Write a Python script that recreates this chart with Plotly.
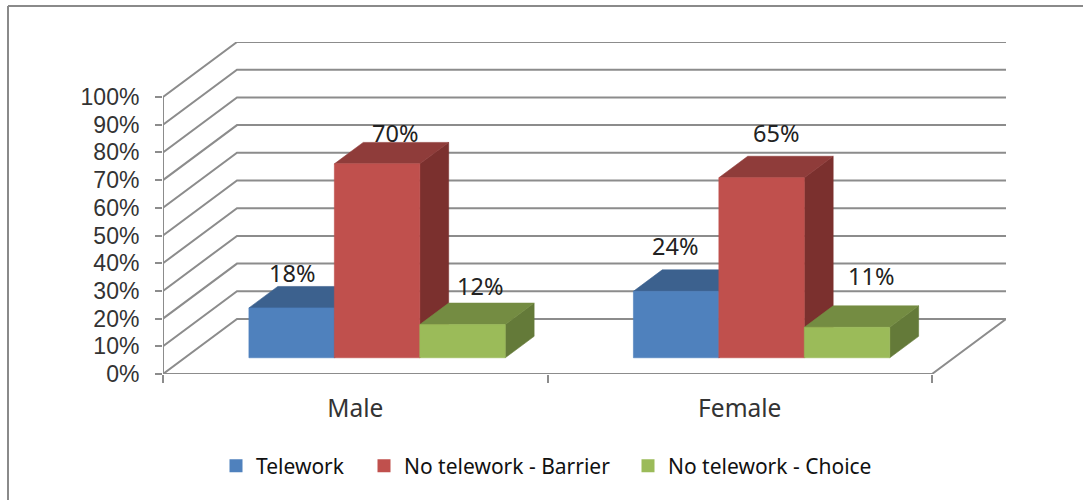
import plotly.graph_objects as go

categories = ["Male", "Female"]
series_names = ["Telework", "No telework - Barrier", "No telework - Choice"]
telework = [18, 24]
barrier = [70, 65]
choice = [12, 11]
y_ticks = list(range(0, 101, 10))

front_colors = ["#4f81bd", "#c0504d", "#9bbb59"]
top_colors = ["#3c618e", "#8f3c3a", "#748c42"]
side_colors = ["#345278", "#7b302e", "#647a39"]
GRID = "#8c8c8c"

# plot frame in pixels
W, H = 1083, 500
L, R, T, B = 163, 1006, 42, 374
PX_X = 384.5      # pixels per category
PX_Y = 2.77       # pixels per percent
DX, DY = 74 / PX_X, 55 / PX_Y   # oblique offset of the full floor depth, in axis units
XMAX_FRONT = 2.0
BAR_W = 2 / 9
D_FRONT, D_BACK = 0.295, 0.685

# label nudges in pixels (x, up), category by series
label_nudge = [[(0, 35), (18, 31), (17, 39)], [(-1, 45), (14, 45), (24, 51)]]


def proj(c, v, d=0.0):
    return c + d * DX, v + d * DY


def poly(points, color):
    xs, ys = zip(*(proj(*p) for p in points))
    return go.Scatter(x=list(xs) + [xs[0]], y=list(ys) + [ys[0]], mode="lines", fill="toself",
                      fillcolor=color, line=dict(color=color, width=0.6),
                      hoverinfo="skip", showlegend=False)


def line(points, width=2):
    xs, ys = zip(*(proj(*p) for p in points))
    return go.Scatter(x=list(xs), y=list(ys), mode="lines", line=dict(color=GRID, width=width),
                      hoverinfo="skip", showlegend=False)


fig = go.Figure()

# walls and floor
for v in y_ticks[1:]:
    fig.add_trace(line([(0, v, 0), (0, v, 1), (XMAX_FRONT, v, 1)]))
fig.add_trace(line([(0, 0, 0), (0, 0, 1), (XMAX_FRONT, 0, 1), (XMAX_FRONT, 0, 0), (0, 0, 0)]))
fig.add_trace(line([(0, 0, 0), (0, 100, 0)]))

# bars
annotations = []
series = [telework, barrier, choice]
for ci, cat in enumerate(categories):
    for si, vals in enumerate(series):
        v = vals[ci]
        x0 = ci + 1 / 6 + si * BAR_W
        x1 = x0 + BAR_W
        fig.add_trace(poly([(x1, 0, D_FRONT), (x1, 0, D_BACK), (x1, v, D_BACK), (x1, v, D_FRONT)], side_colors[si]))
        fig.add_trace(poly([(x0, v, D_FRONT), (x1, v, D_FRONT), (x1, v, D_BACK), (x0, v, D_BACK)], top_colors[si]))
        fig.add_trace(poly([(x0, 0, D_FRONT), (x1, 0, D_FRONT), (x1, v, D_FRONT), (x0, v, D_FRONT)], front_colors[si]))
        ax, ay = proj((x0 + x1) / 2, v, D_FRONT)
        nx, ny = label_nudge[ci][si]
        annotations.append(dict(x=ax, y=ay, xref="x", yref="y", text=f"{v}%", showarrow=False,
                                xshift=nx, yshift=ny, xanchor="center", yanchor="middle",
                                font=dict(family="Noto Sans", size=23.5, color="#222222")))

# legend: one native legend per entry so each sits where the reference has it
legend_text_x = [256, 404, 668]
legends = {}
for i, name in enumerate(series_names):
    key = "legend" if i == 0 else f"legend{i + 1}"
    fig.add_trace(go.Scatter(x=[None], y=[None], mode="markers", name=name,
                             marker=dict(symbol="square", size=13, color=front_colors[i]),
                             legend=key, showlegend=True))
    legends[key] = dict(x=(legend_text_x[i] - 40 - L) / (R - L), y=(B - 466) / (B - T),
                        xanchor="left", yanchor="middle", orientation="h",
                        font=dict(family="Noto Sans", size=21, color="#111111"),
                        bgcolor="rgba(0,0,0,0)", itemclick=False, itemdoubleclick=False)


def pxx(p):
    return (p - L) / (R - L)


def pxy(p):
    return (B - p) / (B - T)


frame = [dict(type="line", xref="paper", yref="paper", x0=pxx(8), x1=pxx(8), y0=pxy(6), y1=pxy(500),
              line=dict(color="#8a8a8a", width=2)),
         dict(type="line", xref="paper", yref="paper", x0=pxx(8), x1=pxx(1083), y0=pxy(6), y1=pxy(6),
              line=dict(color="#8a8a8a", width=2))]

fig.update_layout(
    width=W, height=H, margin=dict(l=L, r=W - R, t=T, b=H - B),
    paper_bgcolor="white", plot_bgcolor="white",
    showlegend=True, annotations=annotations, shapes=frame,
    xaxis=dict(range=[0, (R - L) / PX_X], showgrid=False, zeroline=False, showline=False,
               tickmode="array", tickvals=[0.5, 1.5], ticktext=categories, ticks="",
               ticklabelstandoff=17, tickfont=dict(family="Noto Sans", size=24.5, color="#333333"),
               minor=dict(tickmode="array", tickvals=[0, 1, 2], ticks="outside", ticklen=8,
                          tickcolor=GRID, tickwidth=2, showgrid=False)),
    yaxis=dict(range=[0, (B - T) / PX_Y], showgrid=False, zeroline=False, showline=False,
               tickmode="array", tickvals=y_ticks, ticktext=[f"{t}%" for t in y_ticks],
               ticks="outside", ticklen=7, tickcolor=GRID, tickwidth=2, ticklabelstandoff=11,
               tickfont=dict(family="Liberation Sans", size=23, color="#333333")),
    **legends,
)

fig.write_html("out.html", config={"displayModeBar": False},
               post_script="document.body.style.margin='0';")
